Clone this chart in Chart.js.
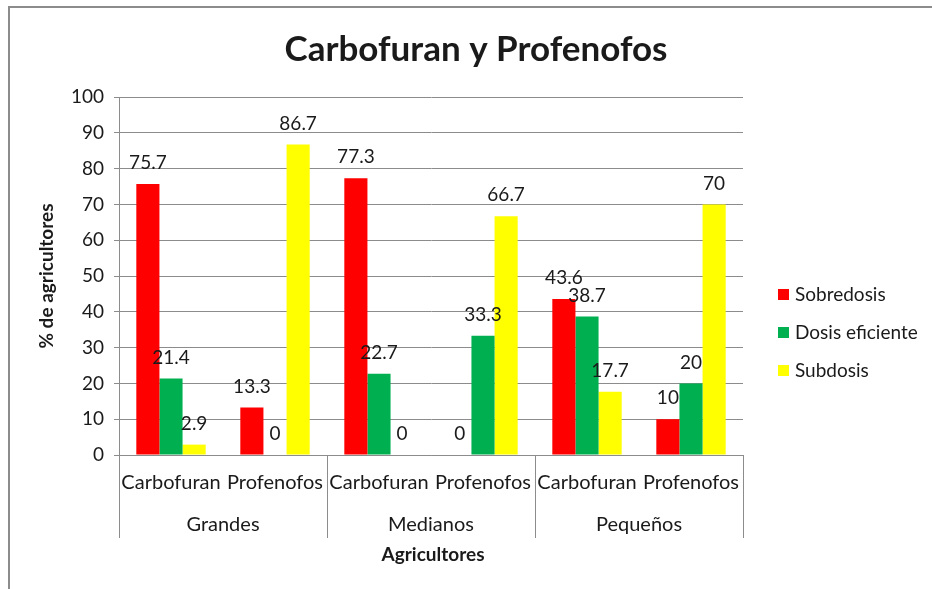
<!DOCTYPE html>
<html>
<head>
<meta charset="utf-8">
<script src="https://cdn.jsdelivr.net/npm/chart.js@4"></script>
<style>
    html, body { margin: 0; padding: 0; background: #fff; }
</style>
</head>
<body>
<canvas id="dosisChart" width="932" height="589"></canvas>
<script>
const categorias = ['Carbofuran', 'Profenofos', 'Carbofuran', 'Profenofos', 'Carbofuran', 'Profenofos'];
const grupos = ['Grandes', 'Medianos', 'Pequeños'];
const sobredosis = [75.7, 13.3, 77.3, 0, 43.6, 10];
const dosisEficiente = [21.4, 0, 22.7, 33.3, 38.7, 20];
const subdosis = [2.9, 86.7, 0, 66.7, 17.7, 70];
const yTicks = [0, 10, 20, 30, 40, 50, 60, 70, 80, 90, 100];

const FONT = 'Lato, "Open Sans", sans-serif';
const GRIS = '#8c8c8c';
const TEXTO = '#1a1a1a';

// todo el texto extra (titulos, etiquetas en dos niveles, leyenda)
const extras = {
    id: 'extras',
    afterDraw(chart) {
        const ctx = chart.ctx;
        const x = chart.scales.x;
        const area = chart.chartArea;
        ctx.save();

        // marco del grafico
        ctx.strokeStyle = GRIS;
        ctx.lineWidth = 2;
        ctx.strokeRect(9, 7, 1000, 700);

        ctx.fillStyle = TEXTO;
        ctx.textAlign = 'center';
        ctx.textBaseline = 'middle';

        ctx.font = 'bold 35px ' + FONT;
        ctx.fillText('Carbofuran y Profenofos', 476, 50);

        ctx.font = 'bold 19px ' + FONT;
        ctx.fillText('Agricultores', 433, 555);
        ctx.save();
        ctx.translate(47, 276);
        ctx.rotate(-Math.PI / 2);
        ctx.fillText('% de agricultores', 0, 0);
        ctx.restore();

        // etiquetas de categoria
        ctx.font = '20px ' + FONT;
        categorias.forEach((c, i) => {
            ctx.fillText(c, x.getPixelForTick(i), 483);
        });

        // grupos y separadores
        const paso = (area.right - area.left) / categorias.length;
        ctx.strokeStyle = GRIS;
        ctx.lineWidth = 1;
        grupos.forEach((g, i) => {
            const cx = (x.getPixelForTick(i * 2) + x.getPixelForTick(i * 2 + 1)) / 2;
            ctx.fillText(g, cx, 525);
        });
        for (let i = 0; i <= grupos.length; i++) {
            const px = Math.round(area.left + paso * 2 * i) + 0.5;
            ctx.beginPath();
            ctx.moveTo(px, area.bottom);
            ctx.lineTo(px, 538);
            ctx.stroke();
        }

        // valores sobre las barras
        ctx.font = '19px ' + FONT;
        chart.data.datasets.forEach((ds, di) => {
            const meta = chart.getDatasetMeta(di);
            meta.data.forEach((el, i) => {
                ctx.fillText(String(ds.data[i]), el.x, el.y - 21);
            });
        });

        // leyenda
        ctx.textAlign = 'left';
        ctx.font = '19px ' + FONT;
        chart.data.datasets.forEach((ds, di) => {
            const ly = 295 + di * 38;
            ctx.fillStyle = ds.backgroundColor;
            ctx.fillRect(778, ly - 6, 11, 11);
            ctx.fillStyle = TEXTO;
            ctx.fillText(ds.label, 795, ly);
        });

        ctx.restore();
    }
};

const ctx = document.getElementById('dosisChart').getContext('2d');

new Chart(ctx, {
    type: 'bar',
    data: {
        labels: categorias,
        datasets: [
            { label: 'Sobredosis', data: sobredosis, backgroundColor: '#ff0000' },
            { label: 'Dosis eficiente', data: dosisEficiente, backgroundColor: '#00b050' },
            { label: 'Subdosis', data: subdosis, backgroundColor: '#ffff00' }
        ]
    },
    options: {
        responsive: false,
        animation: false,
        datasets: {
            bar: { barPercentage: 1, categoryPercentage: 0.667 }
        },
        layout: {
            padding: { top: 97, right: 189, left: 0, bottom: 0 }
        },
        plugins: {
            legend: { display: false },
            title: { display: false },
            tooltip: { enabled: false }
        },
        scales: {
            x: {
                ticks: { display: false },
                grid: { display: false },
                border: { display: true, color: GRIS },
                afterFit: (s) => { s.height = 134; }
            },
            y: {
                min: 0,
                max: 100,
                afterBuildTicks: (s) => { s.ticks = yTicks.map(v => ({ value: v })); },
                ticks: {
                    color: TEXTO,
                    padding: 10,
                    font: { family: FONT, size: 19 }
                },
                grid: { color: GRIS, tickLength: 5 },
                border: { display: true, color: GRIS },
                afterFit: (s) => { s.width = 119; }
            }
        }
    },
    plugins: [extras]
});
</script>
</body>
</html>
